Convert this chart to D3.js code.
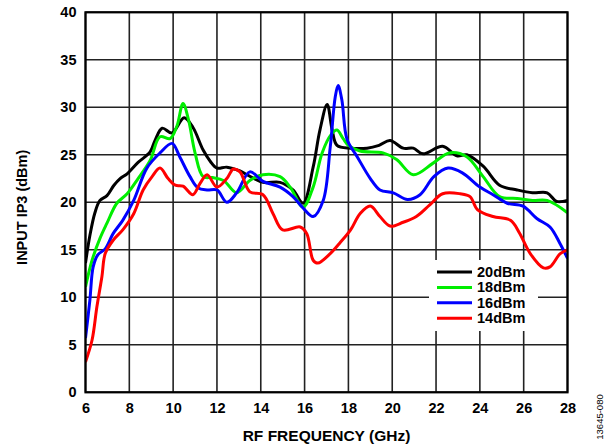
<!DOCTYPE html>
<html><head><meta charset="utf-8">
<script src="https://cdn.jsdelivr.net/npm/d3@7"></script>
<style>body{margin:0;background:#fff}svg{display:block}text{font-family:"Liberation Sans",Arial,sans-serif}</style>
</head><body><svg id="c" width="610" height="444"></svg>
<script>
const xTicks = [6,8,10,12,14,16,18,20,22,24,26,28];
const yTicks = [0,5,10,15,20,25,30,35,40];
const seriesNames = ["20dBm","18dBm","16dBm","14dBm"];
const seriesColors = ["#000000","#00ee00","#0000ff","#ff0000"];

const s20 = [[6,13.6],[6.2,16.5],[6.43,18.9],[6.66,20.2],[6.98,20.7],[7.3,21.8],[7.58,22.5],[7.9,23.0],[8.4,24.2],[8.95,25.3],[9.17,26.5],[9.5,27.8],[9.95,27.3],[10.5,28.9],[10.9,27.9],[11.37,25.5],[11.7,24.3],[12.0,23.6],[12.45,23.7],[13.05,23.3],[13.37,22.9],[14.1,22.1],[14.88,22.1],[15.47,21.3],[15.93,19.9],[16.39,23.7],[16.7,27.6],[17.03,30.3],[17.26,27.6],[17.48,26.0],[18.1,25.7],[18.85,25.7],[19.4,26.0],[19.9,26.5],[20.5,25.7],[20.96,25.7],[21.4,25.1],[22.3,25.9],[22.95,24.9],[23.4,25.0],[24.15,23.8],[24.9,21.8],[25.7,21.3],[26.4,21.0],[27.07,21.0],[27.5,20.1],[28,20.2]];
const s18 = [[6,11.1],[6.3,13.9],[6.66,16.2],[6.98,17.8],[7.43,19.9],[7.9,20.9],[8.4,22.5],[8.95,24.4],[9.4,26.9],[9.86,26.7],[10.17,28.0],[10.45,30.4],[10.7,28.7],[11.0,25.2],[11.37,22.7],[11.8,22.6],[12.3,22.3],[12.9,21.0],[13.5,22.3],[14.1,22.9],[14.88,22.7],[15.34,21.6],[15.93,19.5],[16.39,21.6],[16.8,25.2],[17.2,27.1],[17.48,27.6],[17.76,26.7],[18.0,26.0],[18.53,25.4],[19.58,25.2],[20.2,24.5],[20.96,22.9],[21.85,24.1],[22.6,25.2],[23.4,24.8],[24.15,22.7],[24.9,20.6],[25.7,20.4],[26.4,20.2],[27.07,20.2],[28,18.9]];
const s16 = [[6,5.7],[6.2,9.7],[6.35,13.2],[6.57,14.5],[6.9,15.1],[7.26,16.7],[7.7,18.1],[8.2,20.2],[8.8,23.6],[9.4,25.2],[9.95,26.2],[10.3,24.8],[10.77,22.7],[11.14,21.5],[11.55,21.3],[12.0,21.3],[12.45,20.0],[12.9,21.0],[13.5,23.2],[14.1,22.2],[14.88,21.6],[15.47,20.6],[15.93,19.4],[16.39,18.5],[16.85,20.2],[17.17,25.8],[17.4,31.1],[17.53,32.3],[17.7,30.8],[17.94,26.6],[18.4,24.8],[19.0,22.5],[19.44,21.3],[20.05,21.0],[20.7,20.3],[21.27,20.8],[21.9,22.7],[22.55,23.6],[23.2,23.1],[24.0,21.6],[24.6,20.8],[25.25,19.9],[25.97,19.6],[26.6,18.3],[27.2,17.4],[27.65,15.7],[28,14.1]];
const s14 = [[6,3.2],[6.3,5.5],[6.52,9.0],[6.75,12.2],[6.9,14.6],[7.26,16.0],[7.7,17.1],[8.2,18.8],[8.63,21.3],[9.04,22.7],[9.4,23.6],[9.77,22.5],[10.1,21.8],[10.45,21.7],[10.9,20.8],[11.23,22.0],[11.55,22.9],[12.0,21.6],[12.45,22.5],[12.75,23.5],[13.05,23.2],[13.5,21.1],[14.1,20.8],[14.56,18.8],[15.0,17.1],[15.8,17.4],[16.1,16.7],[16.39,13.9],[16.6,13.6],[17.17,14.6],[17.6,15.7],[18.1,17.1],[18.53,18.8],[19.0,19.6],[19.44,18.5],[19.9,17.5],[20.5,17.9],[21.1,18.5],[21.7,19.7],[22.3,20.9],[23.1,20.9],[23.55,20.6],[23.9,19.2],[24.6,18.5],[25.4,18.1],[25.8,16.8],[26.3,14.6],[26.9,13.1],[27.2,13.2],[27.67,14.6],[28,15.0]];
const seriesData = [s20, s18, s16, s14];

const svg = d3.select("#c");
const L = 85.5, R = 567.5, T = 12.3, B = 392.3;
const x = d3.scaleLinear().domain([6,28]).range([L,R]);
const y = d3.scaleLinear().domain([0,40]).range([B,T]);

// grid
const g = svg.append("g");
g.selectAll(".vx").data(xTicks).enter().append("line")
 .attr("x1",d=>x(d)).attr("x2",d=>x(d)).attr("y1",T).attr("y2",B)
 .attr("stroke","#222").attr("stroke-width",1.6);
g.selectAll(".hy").data(yTicks).enter().append("line")
 .attr("y1",d=>y(d)).attr("y2",d=>y(d)).attr("x1",L).attr("x2",R)
 .attr("stroke","#222").attr("stroke-width",1.6);

// legend box (behind curves)
const lg = svg.append("g");
lg.append("rect").attr("x",429).attr("y",260).attr("width",109).attr("height",71).attr("fill","#fff");

// lines
const line = d3.line().x(d=>x(d[0])).y(d=>y(d[1])).curve(d3.curveCatmullRom.alpha(0.5));
svg.append("clipPath").attr("id","cp").append("rect").attr("x",L).attr("y",T).attr("width",R-L).attr("height",B-T);
seriesData.forEach((s,i)=>{
  svg.append("path").attr("d",line(s)).attr("fill","none").attr("stroke",seriesColors[i])
   .attr("stroke-width",3).attr("stroke-linejoin","round").attr("clip-path","url(#cp)");
});

// border
svg.append("rect").attr("x",L).attr("y",T).attr("width",R-L).attr("height",B-T)
 .attr("fill","none").attr("stroke","#000").attr("stroke-width",2.2);

// axes labels via d3 axes
const xa = svg.append("g").attr("transform",`translate(0,${B})`)
 .call(d3.axisBottom(x).tickValues(xTicks).tickSize(0).tickPadding(10).tickFormat(d3.format("d")));
const ya = svg.append("g").attr("transform",`translate(${L},0)`)
 .call(d3.axisLeft(y).tickValues(yTicks).tickSize(0).tickPadding(9).tickFormat(d3.format("d")));
[xa,ya].forEach(a=>{a.select(".domain").remove();
  a.selectAll("text").attr("font-size",14.5).style("font-weight","bold").attr("fill","#000")
   .attr("font-family","'Liberation Sans',Arial,sans-serif");});

svg.append("text").attr("x",(L+R)/2).attr("y",441).attr("text-anchor","middle")
 .attr("font-size",15.5).style("font-weight","bold").text("RF FREQUENCY (GHz)");
svg.append("text").attr("transform",`translate(27,${(T+B)/2+5}) rotate(-90)`).attr("text-anchor","middle")
 .attr("font-size",14.5).style("font-weight","bold").text("INPUT IP3 (dBm)");
svg.append("text").attr("transform",`translate(603,417) rotate(-90)`).attr("text-anchor","middle")
 .attr("font-size",9.5).style("font-weight","normal").text("13645-080");

// legend entries
seriesNames.forEach((n,i)=>{
  const yy = 272 + i*15.4;
  lg.append("line").attr("x1",437).attr("x2",472).attr("y1",yy).attr("y2",yy)
   .attr("stroke",seriesColors[i]).attr("stroke-width",3);
  lg.append("text").attr("x",477).attr("y",yy+5).attr("font-size",14.5).style("font-weight","bold").text(n);
});
</script></body></html>
